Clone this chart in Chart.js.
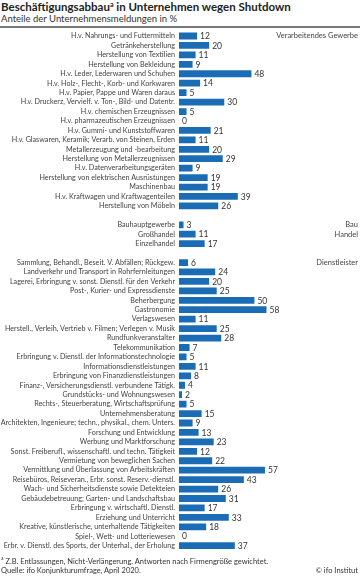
<!DOCTYPE html>
<html><head><meta charset="utf-8">
<script src="https://cdn.jsdelivr.net/npm/chart.js@4/dist/chart.umd.min.js"></script>
<style>
html,body{margin:0;padding:0;background:#fff;}
body{width:360px;height:576px;position:relative;overflow:hidden;font-family:Lato,"Liberation Sans",sans-serif;color:#333;}
#title{position:absolute;left:1px;top:0px;font-size:11.5px;font-weight:bold;color:#222;white-space:nowrap;}
#title sup{font-size:7px;vertical-align:4px;line-height:0;}
#sub{position:absolute;left:1px;top:13px;font-size:9.5px;color:#333;white-space:nowrap;}
#rule{position:absolute;left:0;top:26px;width:360px;height:2px;background:#777;}
#foot1{position:absolute;left:1px;top:555px;font-size:7.5px;color:#333;white-space:nowrap;}
#foot2{position:absolute;left:1px;top:566px;font-size:7.5px;color:#333;white-space:nowrap;}
#copy{position:absolute;right:2px;top:566px;font-size:7.5px;color:#333;white-space:nowrap;}
#wrap{position:absolute;left:0;top:0;width:360px;height:576px;}
</style></head>
<body>
<div id="title">Beschäftigungsabbau<sup>a</sup> in Unternehmen wegen Shutdown</div>
<div id="sub">Anteile der Unternehmensmeldungen in %</div>
<div id="rule"></div>
<div id="wrap"><canvas id="c" width="360" height="576"></canvas></div>
<div id="foot1"><sup style="font-size:5px">a</sup> Z.B. Entlassungen, Nicht-Verlängerung. Antworten nach Firmengröße gewichtet.</div>
<div id="foot2">Quelle: ifo Konjunkturumfrage, April 2020.</div>
<div id="copy">© ifo Institut</div>
<script>
const categories = [
"H.v. Nahrungs- und Futtermitteln","Getränkeherstellung","Herstellung von Textilien","Herstellung von Bekleidung",
"H.v. Leder, Lederwaren und Schuhen","H.v. Holz-, Flecht-, Korb- und Korkwaren","H.v. Papier, Pappe und Waren daraus",
"H.v. Druckerz, Vervielf. v. Ton-, Bild- und Datentr.","H.v. chemischen Erzeugnissen","H.v. pharmazeutischen Erzeugnissen",
"H.v. Gummi- und Kunststoffwaren","H.v. Glaswaren, Keramik; Verarb. von Steinen, Erden","Metallerzeugung und -bearbeitung",
"Herstellung von Metallerzeugnissen","H.v. Datenverarbeitungsgeräten","Herstellung von elektrischen Ausrüstungen",
"Maschinenbau","H.v. Kraftwagen und Kraftwagenteilen","Herstellung von Möbeln",
"",
"Bauhauptgewerbe","Großhandel","Einzelhandel",
"",
"Sammlung, Behandl., Beseit. V. Abfällen; Rückgew.","Landverkehr und Transport in Rohrfernleitungen",
"Lagerei, Erbringung v. sonst. Dienstl. für den Verkehr","Post-, Kurier- und Expressdienste","Beherbergung","Gastronomie",
"Verlagswesen","Herstell., Verleih, Vertrieb v. Filmen; Verlegen v. Musik","Rundfunkveranstalter","Telekommunikation",
"Erbringung v. Dienstl. der Informationstechnologie","Informationsdienstleistungen","Erbringung von Finanzdienstleistungen",
"Finanz-, Versicherungsdienstl. verbundene Tätigk.","Grundstücks- und Wohnungswesen","Rechts-, Steuerberatung, Wirtschaftsprüfung",
"Unternehmensberatung","Architekten, Ingenieure; techn., physikal., chem. Unters.","Forschung und Entwicklung",
"Werbung und Marktforschung","Sonst. Freiberufl., wissenschaftl. und techn. Tätigkeit","Vermietung von beweglichen Sachen",
"Vermittlung und Überlassung von Arbeitskräften","Reisebüros, Reiseveran., Erbr. sonst. Reserv.-dienstl.",
"Wach- und Sicherheitsdienste sowie Detekteien","Gebäudebetreuung; Garten- und Landschaftsbau",
"Erbringung v. wirtschaftl. Dienstl.","Erziehung und Unterricht","Kreative, künstlerische, unterhaltende Tätigkeiten",
"Spiel-, Wett- und Lotteriewesen","Erbr. v. Dienstl. des Sports, der Unterhal., der Erholung"
];
const values = [
12,20,11,9,48,14,5,30,5,0,21,11,20,29,9,19,19,39,26,
null,
3,11,17,
null,
6,24,20,25,50,58,11,25,28,7,5,11,8,4,2,5,15,9,13,23,12,22,57,43,26,31,17,33,18,0,37
];
const groupNames = ["Verarbeitendes Gewerbe","Bau","Handel","Dienstleister"];
const groupRows = [0,20,21,24];

const valueLabels = {
  id:'valueLabels',
  afterDatasetsDraw(chart){
    const ctx=chart.ctx, meta=chart.getDatasetMeta(0);
    ctx.save();
    ctx.font='8.5px Lato, sans-serif';
    ctx.fillStyle='#333';
    ctx.textBaseline='middle';
    ctx.textAlign='left';
    meta.data.forEach((el,i)=>{
      const v=values[i];
      if(v===null||v===undefined) return;
      ctx.fillText(String(v), el.x+3, el.y+0.5);
    });
    ctx.restore();
  }
};
const groupLabels = {
  id:'groupLabels',
  afterDraw(chart){
    const ctx=chart.ctx, ys=chart.scales.y;
    ctx.save();
    ctx.font='7.5px Lato, sans-serif';
    ctx.fillStyle='#444';
    ctx.textBaseline='middle';
    ctx.textAlign='right';
    groupNames.forEach((g,k)=>{
      ctx.fillText(g, 358, ys.getPixelForValue(groupRows[k]));
    });
    ctx.restore();
  }
};

new Chart(document.getElementById('c'),{
  type:'bar',
  data:{labels:categories,datasets:[{data:values,backgroundColor:'#1a6db5',borderWidth:0,barPercentage:0.72,categoryPercentage:1}]},
  options:{
    indexAxis:'y',responsive:false,animation:false,devicePixelRatio:1,
    layout:{padding:{top:31.3,bottom:25.6,left:0,right:0}},
    plugins:{legend:{display:false},tooltip:{enabled:false}},
    scales:{
      x:{display:false,min:0,max:120},
      y:{
        grid:{display:false,drawTicks:false},border:{display:false},
        afterFit(s){s.width=179;},
        ticks:{autoSkip:false,padding:4,color:'#444',font:{family:'Lato',size:7.2}}
      }
    }
  },
  plugins:[valueLabels,groupLabels]
});
</script>
</body></html>
